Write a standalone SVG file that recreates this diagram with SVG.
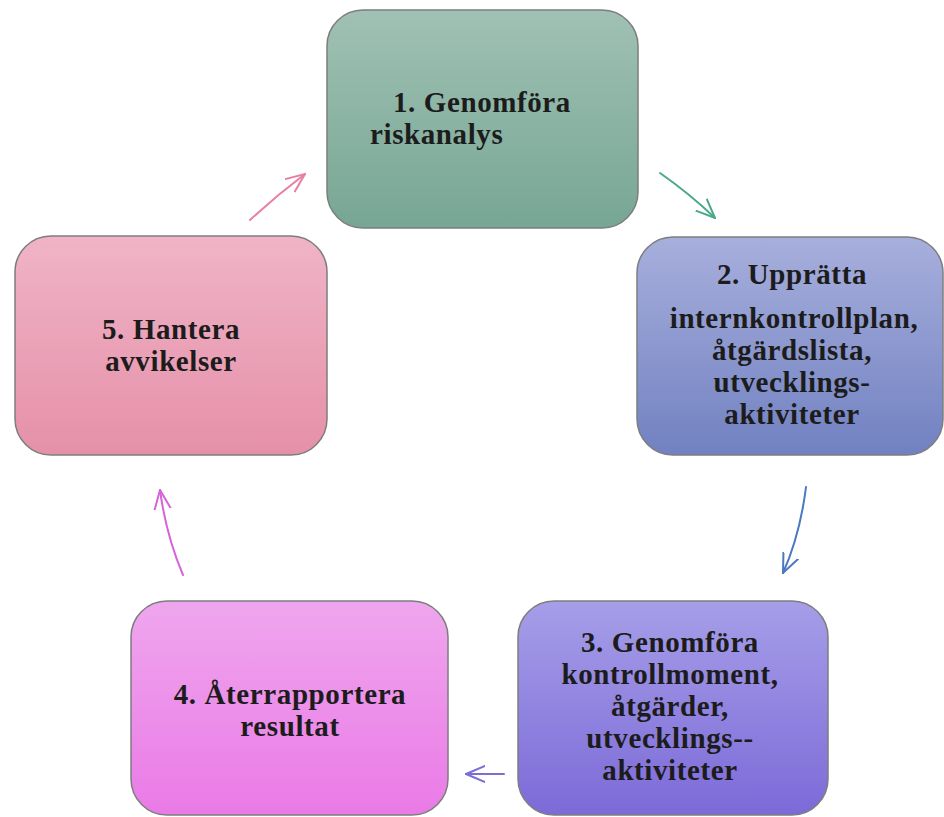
<svg xmlns="http://www.w3.org/2000/svg" width="944" height="817" viewBox="0 0 944 817">
<defs>
<linearGradient id="g1" x1="0" y1="0" x2="0" y2="1"><stop offset="0" stop-color="#a0c1b4"/><stop offset="1" stop-color="#77a694"/></linearGradient>
<linearGradient id="g2" x1="0" y1="0" x2="0" y2="1"><stop offset="0" stop-color="#a7afdc"/><stop offset="1" stop-color="#7181c1"/></linearGradient>
<linearGradient id="g3" x1="0" y1="0" x2="0" y2="1"><stop offset="0" stop-color="#a69ee8"/><stop offset="1" stop-color="#7c6ad8"/></linearGradient>
<linearGradient id="g4" x1="0" y1="0" x2="0" y2="1"><stop offset="0" stop-color="#efa6ee"/><stop offset="1" stop-color="#ea7ae6"/></linearGradient>
<linearGradient id="g5" x1="0" y1="0" x2="0" y2="1"><stop offset="0" stop-color="#f0b4c6"/><stop offset="1" stop-color="#e590a9"/></linearGradient>
<marker id="m1" viewBox="0 0 10 10" refX="9.5" refY="5" markerWidth="20" markerHeight="20" markerUnits="userSpaceOnUse" orient="auto"><path d="M0,1 L9.5,5 L0,9" fill="none" stroke="#4aa88a" stroke-width="1" stroke-linecap="round"/></marker>
<marker id="m2" viewBox="0 0 10 10" refX="9.5" refY="5" markerWidth="20" markerHeight="20" markerUnits="userSpaceOnUse" orient="auto"><path d="M0,1 L9.5,5 L0,9" fill="none" stroke="#4a78c2" stroke-width="1" stroke-linecap="round"/></marker>
<marker id="m3" viewBox="0 0 10 10" refX="9.5" refY="5" markerWidth="20" markerHeight="20" markerUnits="userSpaceOnUse" orient="auto"><path d="M0,1 L9.5,5 L0,9" fill="none" stroke="#7b6fd6" stroke-width="1" stroke-linecap="round"/></marker>
<marker id="m4" viewBox="0 0 10 10" refX="9.5" refY="5" markerWidth="20" markerHeight="20" markerUnits="userSpaceOnUse" orient="auto"><path d="M0,1 L9.5,5 L0,9" fill="none" stroke="#d862d8" stroke-width="1" stroke-linecap="round"/></marker>
<marker id="m5" viewBox="0 0 10 10" refX="9.5" refY="5" markerWidth="20" markerHeight="20" markerUnits="userSpaceOnUse" orient="auto"><path d="M0,1 L9.5,5 L0,9" fill="none" stroke="#e97ea3" stroke-width="1" stroke-linecap="round"/></marker>
</defs>
<style>
.box{stroke:#7d7d7d;stroke-width:1.5}
.t{font-family:"Liberation Serif","Times New Roman",serif;font-weight:bold;font-size:29px;letter-spacing:0.6px;fill:#1c1c1c}
.c{text-anchor:middle}
.a{fill:none;stroke-width:2;stroke-linecap:round}
</style>
<rect width="944" height="817" fill="#ffffff"/>
<g id="node1">
<rect class="box" x="327" y="10" width="311" height="218" rx="36" fill="url(#g1)"/>
<text class="t" x="393" y="112">1. Genomföra</text>
<text class="t" x="370" y="144">riskanalys</text>
</g>
<g id="node2">
<rect class="box" x="637" y="237" width="306" height="218" rx="36" fill="url(#g2)"/>
<text class="t c" x="792" y="284">2. Upprätta</text>
<text class="t c" x="794" y="328">internkontrollplan,</text>
<text class="t c" x="792" y="360">åtgärdslista,</text>
<text class="t c" x="792" y="392">utvecklings-</text>
<text class="t c" x="792" y="424">aktiviteter</text>
</g>
<g id="node3">
<rect class="box" x="518" y="601" width="310" height="214" rx="36" fill="url(#g3)"/>
<text class="t c" x="670" y="652">3. Genomföra</text>
<text class="t c" x="670" y="684">kontrollmoment,</text>
<text class="t c" x="670" y="716">åtgärder,</text>
<text class="t c" x="670" y="748">utvecklings--</text>
<text class="t c" x="670" y="780">aktiviteter</text>
</g>
<g id="node4">
<rect class="box" x="131" y="601" width="317" height="214" rx="36" fill="url(#g4)"/>
<text class="t c" x="290" y="704">4. Återrapportera</text>
<text class="t c" x="290" y="736">resultat</text>
</g>
<g id="node5">
<rect class="box" x="15" y="236" width="312" height="219" rx="36" fill="url(#g5)"/>
<text class="t c" x="171" y="339">5. Hantera</text>
<text class="t c" x="171" y="371">avvikelser</text>
</g>
<g id="connectors">
<path class="a" d="M660,173 Q690,194 715,218" stroke="#4aa88a" marker-end="url(#m1)"/>
<path class="a" d="M806,487 Q800,535 783,573" stroke="#4a78c2" marker-end="url(#m2)"/>
<path class="a" d="M504,774 L466,774" stroke="#7b6fd6" marker-end="url(#m3)"/>
<path class="a" d="M183,575 Q166,535 160,490" stroke="#d862d8" marker-end="url(#m4)"/>
<path class="a" d="M250,220 Q276,196 305,174" stroke="#e97ea3" marker-end="url(#m5)"/>
</g>
</svg>
